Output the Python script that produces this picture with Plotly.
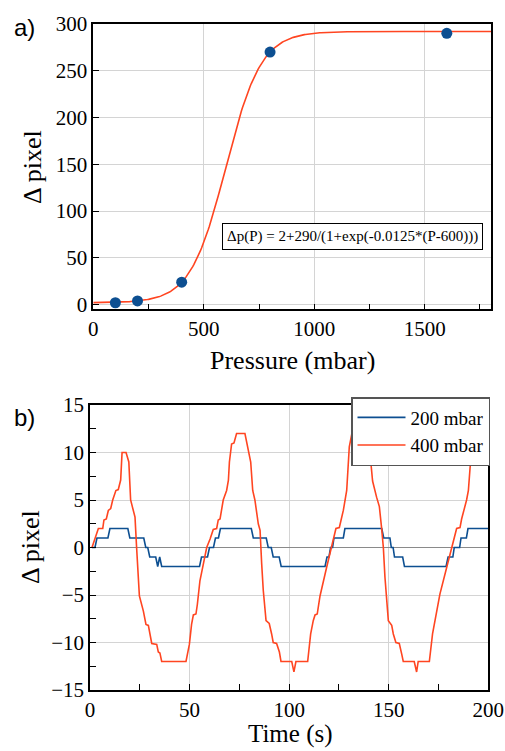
import numpy as np
import plotly.graph_objects as go

# ---------------- data: panel a) ----------------
pressure = [100, 200, 400, 800, 1600]
delta_pixel = [2, 4, 24, 270, 290]
# fitted model stated in the chart: dp(P) = 2 + 290 / (1 + exp(-0.0125 * (P - 600)))
fit_offset = 2
fit_amp = 290
fit_rate = 0.0125
fit_center = 600
fit_p = np.linspace(0, 1800, 361)
fit_y = fit_offset + fit_amp / (1 + np.exp(-fit_rate * (fit_p - fit_center)))
fit_label = "Δp(P) = 2+290/(1+exp(-0.0125*(P-600)))"

# ---------------- data: panel b) ----------------
t_200 = [1, 2.5, 3.5, 9, 10, 19, 20, 27, 28, 29, 30, 33, 34, 35, 36, 55, 56, 59, 60, 62,
         63, 64.5, 65.5, 81, 82, 88.5, 89.5, 91, 92, 95, 96, 118, 119, 120, 120.8, 121.8,
         122.5, 127.2, 128, 146.5, 147.5, 150.6, 151.3, 152.2, 152.9, 157, 157.9, 178.8,
         179.8, 182.2, 182.9, 185.6, 186.3, 189, 189.8, 200]
v_200 = [0, 0, 1, 1, 2, 2, 1, 1, 0, 0, -1, -1, -2, -1, -2, -2, -1, -1, 0, 0,
         1, 1, 2, 2, 1, 1, 0, 0, -1, -1, -2, -2, -1, -1, 0, 0,
         1, 1, 2, 2, 1, 1, 0, 0, -1, -1, -2, -2,
         -1, -1, 0, 0, 1, 1, 2, 2]

t_400 = [1, 2.5, 4.2, 6.4, 7, 8.2, 9.2, 10.4, 11.4, 13, 14.2, 15.4, 16.1, 18.1, 19.5,
         20.4, 22.6, 23.4, 24.8, 26.8, 28.1, 29.3, 31, 33.5, 34.3, 35.1, 36, 48.2,
         49.9, 51, 51.9, 53.2, 53.9, 55.2, 58.6, 60.3, 61.9, 63.6, 64.4, 65.3, 66.9,
         68.6, 69.5, 70, 71.1, 72.3, 73.6, 77.8, 79.5, 80.7, 81.7, 82.8, 84.5, 85.4,
         86.2, 87, 88.4, 90, 91.2, 92, 93.7, 95.1, 95.9, 101.3, 102.4, 103.4, 109.3,
         110.8, 112.1, 113, 114.1, 115.5, 118.8, 122.2, 123.5, 125.2, 127.2, 128.9,
         130.2, 131.5, 139, 140.6, 141.9, 143.9, 145.3, 146.4, 147.3, 148.1, 149,
         149.8, 151.5, 152.3, 153.6, 155.3, 156.5, 157.3, 162.8, 164, 164.8, 170.4,
         172, 175.7, 179.1, 181.6, 183.3, 184.1, 185.8, 186.6, 189.1, 190, 191.1,
         192.5, 193.5, 200]
v_400 = [0, 1, 2, 2, 2.9, 3, 3.9, 4.1, 5, 6, 6.1, 7.1, 10, 10, 9,
         5, 3.2, 0, -5.1, -6.7, -8.1, -8.2, -10.1, -10.2, -11, -11.1, -12, -12,
         -10.2, -8.1, -7.1, -7, -6, -3.5, 0, 0.9, 1.9, 2, 2.9, 3, 5,
         6, 7.1, 9, 10.9, 11, 12, 12, 10.1, 9, 6, 5, 2.5, 1.8,
         -1.7, -4.5, -7.7, -8, -9.1, -10, -10.1, -11, -12, -12, -13.1, -12, -12,
         -9.1, -7.7, -7.1, -7, -5.1, -2.1, 1, 2, 2.1, 3.9, 6,
         10.6, 12, 12, 9.9, 7, 5.3, 4.3, 2.1, 0, -3.1, -6,
         -7.7, -8.2, -9.1, -10, -10.1, -11.2, -12, -12, -13.1, -12, -12,
         -9.1, -4.9, -2.1, 0, 1.1, 2, 2.1, 3, 5, 6, 9.1,
         11, 12, 12]

# ---------------- styling ----------------
W, H = 505, 751
SERIF = "Liberation Serif, Times New Roman, serif"
SANS = "Liberation Sans, Arial, sans-serif"
BLUE = "#0d4f91"
RED = "#ff4521"
GRID = "#d4d4d4"


def fx(px):
    return px / W


def fy(py):
    return 1 - py / H


fig = go.Figure()

fig.add_trace(go.Scatter(x=fit_p, y=fit_y, mode="lines",
                         line=dict(color=RED, width=1.6),
                         showlegend=False, xaxis="x", yaxis="y"))
fig.add_trace(go.Scatter(x=pressure, y=delta_pixel, mode="markers",
                         marker=dict(color=BLUE, size=11),
                         showlegend=False, xaxis="x", yaxis="y"))

fig.add_trace(go.Scatter(x=t_200, y=v_200, mode="lines", name="200 mbar",
                         line=dict(color=BLUE, width=1.6),
                         xaxis="x2", yaxis="y2"))
fig.add_trace(go.Scatter(x=t_400, y=v_400, mode="lines", name="400 mbar",
                         line=dict(color=RED, width=1.6),
                         xaxis="x2", yaxis="y2"))

axis_common = dict(showline=True, mirror=True, linecolor="black", linewidth=1.5,
                   ticks="inside", ticklen=6, tickcolor="black", tickwidth=1,
                   showgrid=True, gridcolor=GRID, gridwidth=1,
                   tickfont=dict(family=SERIF, size=21, color="black"),
                   automargin=False)

fig.update_layout(
    width=W, height=H,
    margin=dict(l=0, r=0, t=0, b=0),
    font=dict(family=SERIF, color="black"),
    paper_bgcolor="white", plot_bgcolor="white",
    xaxis=dict(axis_common, domain=[fx(93.3), fx(491)], range=[0, 1800],
               dtick=500, tick0=0, zeroline=False, anchor="y",
               minor=dict(dtick=250, ticks="inside", ticklen=6, tickcolor="black", showgrid=False)),
    yaxis=dict(axis_common, domain=[fy(309.3), fy(24)], range=[-5, 300],
               dtick=50, tick0=0, zeroline=True, zerolinecolor=GRID, zerolinewidth=1,
               anchor="x"),
    xaxis2=dict(axis_common, domain=[fx(90), fx(488.3)], range=[0, 200],
                dtick=50, tick0=0, zeroline=False, anchor="y2",
                minor=dict(dtick=25, ticks="inside", ticklen=6, tickcolor="black", showgrid=False)),
    yaxis2=dict(axis_common, domain=[fy(690), fy(405)], range=[-15, 15],
                dtick=5, tick0=0, zeroline=True, zerolinecolor="#8a8a8a", zerolinewidth=1,
                anchor="x2",
                minor=dict(dtick=2.5, ticks="inside", ticklen=6, tickcolor="black", showgrid=False)),
    legend=dict(x=fx(351), y=fy(397), xanchor="left", yanchor="top",
                bgcolor="white", bordercolor="#555555", borderwidth=1.5,
                font=dict(family=SERIF, size=19, color="black"),
                itemwidth=48, tracegroupgap=0),
)

annots = [
    dict(text="a)", x=fx(24), y=fy(27), font=dict(family=SANS, size=24)),
    dict(text="b)", x=fx(24), y=fy(417), font=dict(family=SANS, size=24)),
    dict(text="Δ pixel", x=fx(33), y=fy(167), textangle=-90, font=dict(family=SERIF, size=26)),
    dict(text="Pressure (mbar)", x=fx(292), y=fy(360), font=dict(family=SERIF, size=26)),
    dict(text="Δ pixel", x=fx(30), y=fy(547), textangle=-90, font=dict(family=SERIF, size=26)),
    dict(text="Time (s)", x=fx(290), y=fy(734), font=dict(family=SERIF, size=25)),
]
for a in annots:
    a.update(xref="paper", yref="paper", showarrow=False, xanchor="center", yanchor="middle")
    a["font"]["color"] = "black"
    fig.add_annotation(**a)

fig.add_annotation(text=fit_label, xref="x", yref="y", x=1174, y=73,
                   showarrow=False, xanchor="center", yanchor="middle",
                   font=dict(family=SERIF, size=15, color="black"),
                   bgcolor="white", bordercolor="black", borderwidth=1, borderpad=4)

fig.write_html("out.html", config={"displayModeBar": False},
               post_script="document.body.style.margin='0';")
